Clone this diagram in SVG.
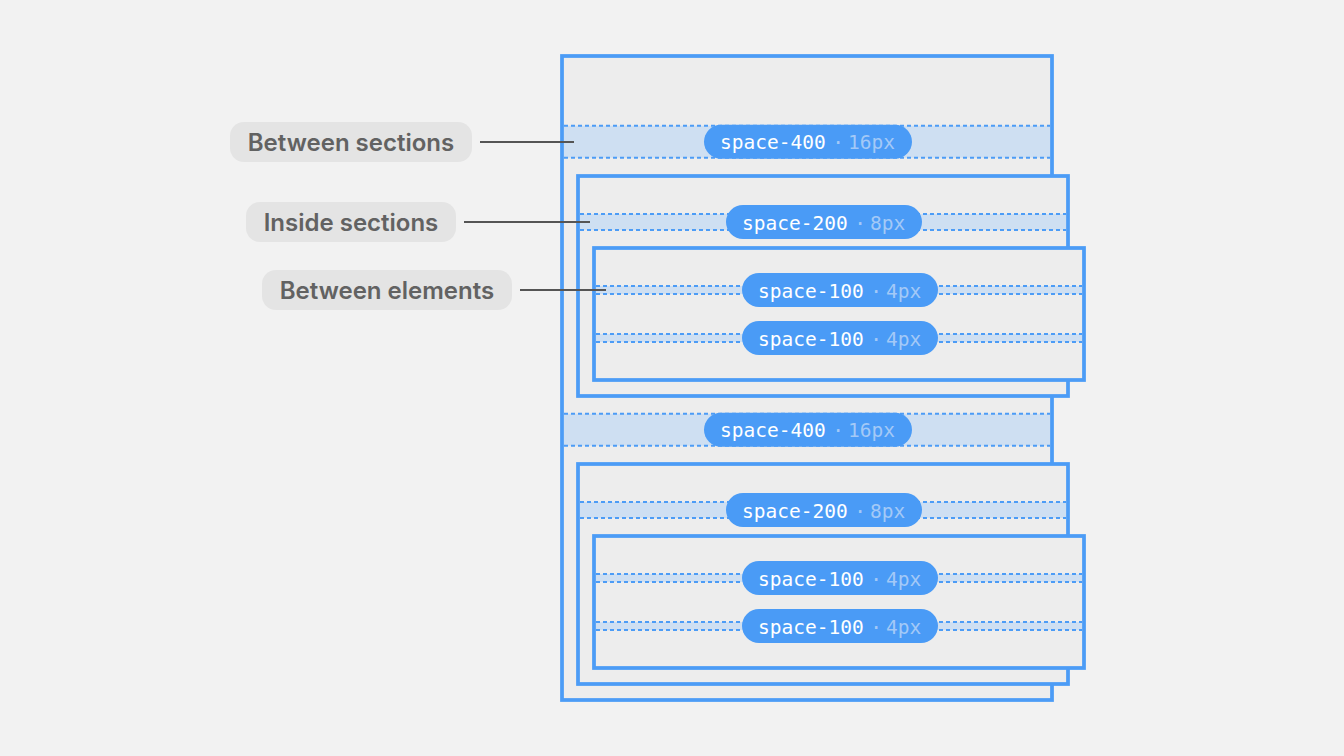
<svg xmlns="http://www.w3.org/2000/svg" width="1344" height="756" viewBox="0 0 1344 756">
  <style>
    .frame { fill: #EDEDED; stroke: #4C9CF6; stroke-width: 3.75; }
    .band { fill: #CEDFF2; }
    .dash { stroke: #4C9CF6; stroke-width: 2; stroke-dasharray: 4 3; fill: none; }
    .pill { fill: #4A9BF6; }
    .tok { font-family: "DejaVu Sans Mono", "Liberation Mono", monospace; font-size: 19.5px; }
    .tok-name { fill: #FFFFFF; }
    .tok-val { fill: #A3C9F7; }
    .label-bg { fill: #E4E4E4; }
    .label { font-family: Inter, "Noto Sans", "Liberation Sans", sans-serif; font-weight: 600; font-size: 24px; fill: #626262; text-anchor: middle; }
    .leader { stroke: #555555; stroke-width: 2; fill: none; }
  </style>
  <rect width="1344" height="756" fill="#F2F2F2"/>

  <g id="page">
    <rect class="frame" x="562" y="56" width="490" height="644"/>
  </g>

  <g id="gap-between-sections-1">
    <rect class="band" x="564" y="125.75" width="486" height="32"/>
    <line class="dash" x1="564" y1="125.75" x2="1050" y2="125.75"/>
    <line class="dash" x1="564" y1="157.75" x2="1050" y2="157.75"/>
  </g>

  <g id="section-1">
    <rect class="frame" x="578" y="176" width="490" height="220"/>
    <rect class="band" x="580" y="214" width="486" height="16"/>
    <line class="dash" x1="580" y1="214" x2="1066" y2="214"/>
    <line class="dash" x1="580" y1="230" x2="1066" y2="230"/>
  </g>

  <g id="elements-1">
    <rect class="frame" x="594" y="248" width="490" height="132"/>
    <rect class="band" x="596" y="286" width="486" height="8"/>
    <line class="dash" x1="596" y1="286" x2="1082" y2="286"/>
    <line class="dash" x1="596" y1="294" x2="1082" y2="294"/>
    <rect class="band" x="596" y="334" width="486" height="8"/>
    <line class="dash" x1="596" y1="334" x2="1082" y2="334"/>
    <line class="dash" x1="596" y1="342" x2="1082" y2="342"/>
  </g>

  <g id="gap-between-sections-2">
    <rect class="band" x="564" y="413.75" width="486" height="32"/>
    <line class="dash" x1="564" y1="413.75" x2="1050" y2="413.75"/>
    <line class="dash" x1="564" y1="445.75" x2="1050" y2="445.75"/>
  </g>

  <g id="section-2">
    <rect class="frame" x="578" y="464" width="490" height="220"/>
    <rect class="band" x="580" y="502" width="486" height="16"/>
    <line class="dash" x1="580" y1="502" x2="1066" y2="502"/>
    <line class="dash" x1="580" y1="518" x2="1066" y2="518"/>
  </g>

  <g id="elements-2">
    <rect class="frame" x="594" y="536" width="490" height="132"/>
    <rect class="band" x="596" y="574" width="486" height="8"/>
    <line class="dash" x1="596" y1="574" x2="1082" y2="574"/>
    <line class="dash" x1="596" y1="582" x2="1082" y2="582"/>
    <rect class="band" x="596" y="622" width="486" height="8"/>
    <line class="dash" x1="596" y1="622" x2="1082" y2="622"/>
    <line class="dash" x1="596" y1="630" x2="1082" y2="630"/>
  </g>

  <g id="pill-400-a">
    <rect class="pill" x="704" y="124.75" width="208" height="34" rx="17"/>
    <text class="tok" y="149"><tspan class="tok-name" x="720">space-400</tspan></text>
    <text class="tok tok-val" x="838" y="149" text-anchor="middle">·</text>
    <text class="tok tok-val" x="848" y="149">16px</text>
  </g>
  <g id="pill-200-a">
    <rect class="pill" x="726" y="205" width="196" height="34" rx="17"/>
    <text class="tok" y="229.5"><tspan class="tok-name" x="742">space-200</tspan></text>
    <text class="tok tok-val" x="860" y="229.5" text-anchor="middle">·</text>
    <text class="tok tok-val" x="870" y="229.5">8px</text>
  </g>
  <g id="pill-100-a">
    <rect class="pill" x="742" y="273" width="196" height="34" rx="17"/>
    <text class="tok" y="297.5"><tspan class="tok-name" x="758">space-100</tspan></text>
    <text class="tok tok-val" x="876" y="297.5" text-anchor="middle">·</text>
    <text class="tok tok-val" x="886" y="297.5">4px</text>
  </g>
  <g id="pill-100-b">
    <rect class="pill" x="742" y="321" width="196" height="34" rx="17"/>
    <text class="tok" y="345.5"><tspan class="tok-name" x="758">space-100</tspan></text>
    <text class="tok tok-val" x="876" y="345.5" text-anchor="middle">·</text>
    <text class="tok tok-val" x="886" y="345.5">4px</text>
  </g>
  <g id="pill-400-b">
    <rect class="pill" x="704" y="412.75" width="208" height="34" rx="17"/>
    <text class="tok" y="437"><tspan class="tok-name" x="720">space-400</tspan></text>
    <text class="tok tok-val" x="838" y="437" text-anchor="middle">·</text>
    <text class="tok tok-val" x="848" y="437">16px</text>
  </g>
  <g id="pill-200-b">
    <rect class="pill" x="726" y="493" width="196" height="34" rx="17"/>
    <text class="tok" y="517.5"><tspan class="tok-name" x="742">space-200</tspan></text>
    <text class="tok tok-val" x="860" y="517.5" text-anchor="middle">·</text>
    <text class="tok tok-val" x="870" y="517.5">8px</text>
  </g>
  <g id="pill-100-c">
    <rect class="pill" x="742" y="561" width="196" height="34" rx="17"/>
    <text class="tok" y="585.5"><tspan class="tok-name" x="758">space-100</tspan></text>
    <text class="tok tok-val" x="876" y="585.5" text-anchor="middle">·</text>
    <text class="tok tok-val" x="886" y="585.5">4px</text>
  </g>
  <g id="pill-100-d">
    <rect class="pill" x="742" y="609" width="196" height="34" rx="17"/>
    <text class="tok" y="633.5"><tspan class="tok-name" x="758">space-100</tspan></text>
    <text class="tok tok-val" x="876" y="633.5" text-anchor="middle">·</text>
    <text class="tok tok-val" x="886" y="633.5">4px</text>
  </g>

  <g id="label-between-sections">
    <rect class="label-bg" x="230" y="122" width="242" height="40" rx="14"/>
    <text class="label" x="351" y="150.5">Between sections</text>
  </g>
  <g id="label-inside-sections">
    <rect class="label-bg" x="246" y="202" width="210" height="40" rx="14"/>
    <text class="label" x="351" y="230.5">Inside sections</text>
  </g>
  <g id="label-between-elements">
    <rect class="label-bg" x="262" y="270" width="250" height="40" rx="14"/>
    <text class="label" x="387" y="298.5">Between elements</text>
  </g>

  <g id="connectors">
    <line class="leader" x1="480" y1="142" x2="574" y2="142"/>
    <line class="leader" x1="464" y1="222" x2="590" y2="222"/>
    <line class="leader" x1="520" y1="290" x2="606" y2="290"/>
  </g>
</svg>
